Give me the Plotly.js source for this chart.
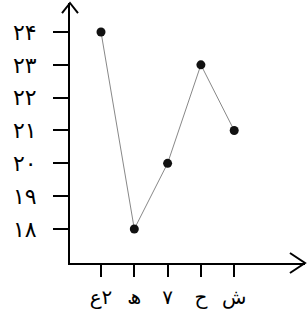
<!DOCTYPE html>
<html><head><meta charset="utf-8">
<script src="https://cdn.plot.ly/plotly-3.0.1.min.js"></script>
<style>html,body{margin:0;padding:0;background:#fff}</style>
</head><body><div id="chart" style="width:308px;height:315px"></div>
<script>
const categories = ["\u202Dع۲\u202C", "ھ", "۷", "ح", "ش"];
const values = [24, 18, 20, 23, 21];
const yTickVals = [18, 19, 20, 21, 22, 23, 24];
const yTickText = ["۱۸", "۱۹", "۲۰", "۲۱", "۲۲", "۲۳", "۲۴"];
const xIdx = categories.map((c, i) => i);

const trace = {
  x: xIdx, y: values, mode: "lines+markers", type: "scatter",
  line: {color: "#888", width: 1},
  marker: {color: "#111", size: 9},
  hoverinfo: "skip"
};
const layout = {
  width: 308, height: 315,
  margin: {l: 70, r: 3, t: 3, b: 52},
  paper_bgcolor: "#fff", plot_bgcolor: "#fff",
  showlegend: false,
  font: {family: "DejaVu Sans", color: "#000"},
  xaxis: {
    range: [-0.931, 6.126], showgrid: false, zeroline: false,
    showline: true, linecolor: "#000", linewidth: 2,
    tickmode: "array", tickvals: xIdx, ticktext: categories,
    ticks: "outside", ticklen: 12, tickwidth: 2, tickcolor: "#000",
    ticklabelstandoff: 3,
    tickfont: {size: 20, color: "#000"}, fixedrange: true
  },
  yaxis: {
    range: [16.964, 24.883], showgrid: false, zeroline: false,
    showline: true, linecolor: "#000", linewidth: 2,
    tickmode: "array", tickvals: yTickVals, ticktext: yTickText,
    ticks: "outside", ticklen: 15, tickwidth: 2, tickcolor: "#000",
    ticklabelstandoff: 12,
    tickfont: {size: 22, color: "#000"}, fixedrange: true
  },
  shapes: [
    {type: "path", xref: "paper", yref: "paper",
     path: "M -0.034 0.9615 L 0 1 L 0.034 0.9615", line: {color: "#000", width: 2}},
    {type: "path", xref: "paper", yref: "paper",
     path: "M 0.936 0.0385 L 1 0 L 0.936 -0.0385", line: {color: "#000", width: 2}}
  ]
};
Plotly.newPlot("chart", [trace], layout, {displayModeBar: false, staticPlot: true});
</script></body></html>
